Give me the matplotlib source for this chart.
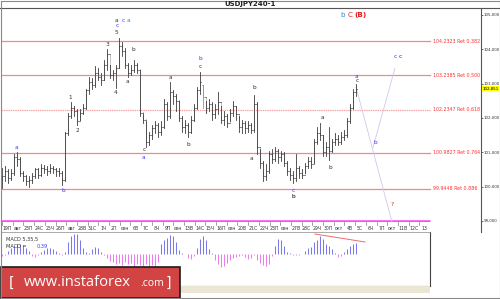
import matplotlib
matplotlib.use("Agg")
import matplotlib.pyplot as plt
from matplotlib.patches import Rectangle

# ── data (USDJPY H4) ───────────────────────────────────────────────
opens = [100.20, 100.30, 100.45, 100.25, 100.40, 100.85, 100.80, 100.40, 100.30, 100.15,
         100.20, 100.30, 100.50, 100.35, 100.55, 100.50, 100.45, 100.55, 100.50, 100.45,
         100.40, 100.20, 101.55, 102.05, 102.30, 102.20, 101.90, 102.15, 102.30, 102.80,
         103.05, 102.95, 103.30, 103.20, 103.10, 103.55, 103.85, 103.25, 103.30, 103.45,
         104.10, 103.95, 103.55, 103.30, 103.40, 103.55, 103.40, 102.15, 101.95, 101.30,
         101.50, 101.70, 101.80, 101.60, 101.75, 102.40, 102.05, 102.75, 102.65, 102.50,
         102.00, 101.75, 101.80, 101.60, 101.95, 102.30, 102.80, 102.95, 102.60, 102.30,
         102.40, 102.10, 102.25, 102.45, 101.95, 102.05, 101.85, 102.15, 102.35, 102.10,
         101.75, 101.85, 101.70, 101.80, 101.65, 102.40, 101.15, 100.70, 100.30, 100.45,
         100.95, 100.80, 101.05, 100.85, 100.95, 100.70, 100.45, 100.35, 100.25, 100.55,
         100.40, 100.35, 100.60, 100.75, 100.65, 101.30, 101.55, 101.50, 101.00, 101.15,
         101.05, 101.30, 101.40, 101.30, 101.45, 101.50, 101.90, 102.30, 102.75]
highs = [100.55, 100.60, 100.50, 100.50, 100.95, 101.00, 100.85, 100.45, 100.35, 100.30,
         100.40, 100.55, 100.55, 100.65, 100.62, 100.60, 100.65, 100.60, 100.55, 100.55,
         100.45, 101.60, 102.15, 102.45, 102.35, 102.25, 102.25, 102.40, 102.85, 103.20,
         103.15, 103.50, 103.45, 103.30, 103.70, 104.00, 103.55, 103.40, 103.55, 104.33,
         104.20, 104.05, 103.60, 103.55, 103.70, 103.60, 103.40, 102.10, 101.90, 101.60,
         101.80, 101.90, 101.85, 101.90, 102.55, 102.45, 103.05, 102.80, 102.70, 102.50,
         102.05, 101.95, 101.85, 102.05, 102.40, 102.90, 103.35, 102.96, 102.50, 102.55,
         102.45, 102.40, 102.75, 102.35, 102.20, 102.10, 102.25, 102.50, 102.35, 102.05,
         101.95, 101.90, 101.90, 101.85, 102.67, 102.45, 101.10, 100.75, 100.65, 101.05,
         101.10, 101.15, 101.10, 101.05, 101.00, 100.75, 100.55, 100.45, 100.95, 100.60,
         100.50, 100.70, 100.85, 100.85, 101.40, 101.74, 101.85, 101.50, 101.30, 101.74,
         101.40, 101.55, 101.50, 101.60, 101.65, 102.00, 102.40, 102.85, 103.00]
lows = [99.95, 100.15, 100.10, 100.20, 100.35, 100.60, 100.30, 100.15, 100.05, 100.00,
        100.10, 100.25, 100.25, 100.30, 100.40, 100.35, 100.40, 100.40, 100.30, 100.30,
        100.05, 100.15, 101.50, 102.00, 102.05, 101.80, 101.95, 102.10, 102.25, 102.70,
        102.85, 102.90, 103.10, 102.95, 103.10, 103.40, 103.15, 103.10, 102.87, 103.45,
        103.80, 103.45, 103.20, 103.25, 103.35, 103.30, 102.05, 101.85, 101.15, 101.20,
        101.40, 101.55, 101.45, 101.50, 101.70, 101.95, 102.00, 102.40, 102.20, 101.90,
        101.60, 101.55, 101.44, 101.55, 101.90, 102.25, 102.70, 102.29, 102.15, 102.20,
        101.95, 102.00, 102.10, 101.85, 101.80, 101.75, 101.90, 102.05, 101.95, 101.60,
        101.55, 101.55, 101.60, 101.55, 101.60, 100.95, 100.55, 100.15, 100.20, 100.40,
        100.70, 100.75, 100.70, 100.75, 100.60, 100.35, 100.20, 100.10, 100.15, 100.25,
        100.25, 100.40, 100.55, 100.55, 100.70, 101.25, 101.35, 100.90, 100.90, 100.78,
        101.00, 101.20, 101.20, 101.25, 101.35, 101.45, 101.85, 102.25, 102.65]
closes = [100.30, 100.45, 100.25, 100.40, 100.85, 100.80, 100.40, 100.30, 100.15, 100.20,
          100.30, 100.50, 100.35, 100.55, 100.50, 100.45, 100.55, 100.50, 100.45, 100.40,
          100.20, 101.55, 102.05, 102.30, 102.20, 101.90, 102.15, 102.30, 102.80, 103.05,
          102.95, 103.30, 103.20, 103.10, 103.55, 103.85, 103.25, 103.30, 103.45, 104.10,
          103.95, 103.55, 103.30, 103.40, 103.55, 103.40, 102.15, 101.95, 101.30, 101.50,
          101.70, 101.80, 101.60, 101.75, 102.40, 102.05, 102.75, 102.65, 102.50, 102.00,
          101.75, 101.80, 101.60, 101.95, 102.30, 102.80, 103.05, 102.60, 102.30, 102.40,
          102.10, 102.25, 102.45, 101.95, 102.05, 101.85, 102.15, 102.35, 102.10, 101.75,
          101.85, 101.70, 101.80, 101.65, 102.40, 101.15, 100.70, 100.30, 100.45, 100.95,
          100.80, 101.05, 100.85, 100.95, 100.70, 100.45, 100.35, 100.25, 100.55, 100.40,
          100.35, 100.60, 100.75, 100.65, 101.30, 101.55, 101.50, 101.00, 101.15, 101.05,
          101.30, 101.40, 101.30, 101.45, 101.50, 101.90, 102.30, 102.75, 102.85]
highlight_bar = 67          # the pink bar

macd_hist = [-0.07, -0.04, 0.11, 0.21, 0.28, 0.35, 0.35, 0.32, 0.21, 0.11,
             -0.07, -0.11, -0.04, 0.07, 0.14, 0.21, 0.21, 0.18, 0.11, 0.04,
             -0.04, 0.07, 0.42, 0.63, 0.70, 0.70, 0.49, 0.21, 0.07, 0.04,
             0.18, 0.25, 0.21, 0.07, -0.04, -0.14, -0.25, -0.28, -0.35, -0.32,
             -0.39, -0.28, -0.35, -0.32, -0.42, -0.35, -0.39, -0.42, -0.35, -0.46,
             -0.39, -0.42, -0.28, 0.35, 0.49, 0.56, 0.67, 0.63, 0.42, 0.14,
             0.04, 0.00, -0.14, -0.18, -0.07, 0.21, 0.53, 0.63, 0.49, 0.18,
             0.04, -0.21, -0.35, -0.46, -0.42, -0.32, -0.21, -0.14, -0.11, -0.07,
             -0.04, -0.11, -0.18, -0.14, -0.04, -0.21, -0.32, -0.39, -0.42, -0.35,
             -0.07, 0.28, 0.53, 0.49, 0.28, 0.07, 0.04, -0.04, -0.04, -0.04,
             0.00, 0.11, 0.21, 0.25, 0.42, 0.49, 0.63, 0.53, 0.35, 0.28,
             0.18, 0.04, -0.11, -0.07, 0.07, 0.18, 0.28, 0.35, 0.39]
macd_trend_x = [104.3, 121.0]
macd_trend_y = [0.70, 0.42]

fib_levels = [104.2323, 103.2385, 102.2347, 100.9827, 99.9448]
fib_ratios = ['0.382', '0.500', '0.618', '0.764', '0.886']
floor_level = 99.0

# projected wave path (bar index, price)
proj_down_x = [118, 130]
proj_down_y = [102.90, 98.97]
proj_up_x = [123.7, 131]
proj_up_y = [101.15, 103.45]

price_ticks = [99, 100, 101, 102, 103, 104, 105]
last_price = 102.851

time_labels = ['19П', 'авг', '23П', '24С', '25Ч', '26П', 'авг', '28В', '31С', '1Ч',
               '2П', 'сен', '6В', '7С', '8Ч', '9П', 'сен', '13В', '14С', '15Ч',
               '16П', 'сен', '20В', '21С', '22Ч', '23П', 'сен', '27В', '28С', '29Ч',
               '30П', 'окт', '4В', '5С', '6Ч', '7П', 'окт', '11В', '12С', '13']

DARK, BLUE, CYAN, RED = '#333333', '#3a3aff', '#2a8ad0', '#e02020'
wave_labels = [
    (4.7, 101.13, 'a', BLUE), (20.3, 99.90, 'b', BLUE),
    (22.7, 102.58, '1', DARK), (25.3, 101.62, '2', DARK),
    (35.0, 104.13, '3', DARK), (37.7, 102.73, '4', DARK),
    (38.3, 104.50, '5', DARK), (38.3, 104.68, 'c', BLUE),
    (38.3, 104.85, 'a', DARK), (40.3, 104.85, 'c', BLUE), (42.0, 104.85, 'a', CYAN),
    (41.7, 103.05, 'a', DARK), (43.7, 103.98, 'b', DARK),
    (47.3, 101.07, 'c', DARK), (47.3, 100.86, 'a', BLUE),
    (56.0, 103.19, 'a', DARK), (62.0, 101.24, 'b', DARK),
    (66.0, 103.49, 'c', DARK), (66.0, 103.72, 'b', BLUE),
    (84.0, 102.90, 'b', DARK), (83.3, 100.83, 'a', DARK),
    (97.0, 99.90, 'c', BLUE), (97.0, 99.70, 'b', 'black'),
    (106.7, 102.00, 'a', DARK), (109.3, 100.57, 'b', DARK),
    (118.3, 103.21, 'a', BLUE), (118.3, 103.08, 'c', DARK),
    (124.3, 101.27, 'b', BLUE), (131.0, 103.78, 'c', BLUE), (132.7, 103.78, 'c', DARK),
    (130.0, 99.47, '?', RED),
]

W, H = 500, 299


def box(x0, y0, x1, y1):
    return [x0 / W, 1 - y1 / H, (x1 - x0) / W, (y1 - y0) / H]


fig = plt.figure(figsize=(W / 100, H / 100), dpi=100, facecolor='white')

# ── main price window ──────────────────────────────────────────────
ax = fig.add_axes(box(1, 8, 481, 222))
ax.set_xlim(-1 / 3, 159.67)
ax.set_ylim(98.97, 105.20)
for s in ['top', 'bottom', 'left']:
    ax.spines[s].set_visible(False)
ax.spines['right'].set_color('#555555')
ax.spines['right'].set_linewidth(0.8)
ax.set_xticks([])
ax.yaxis.tick_right()
ax.set_yticks(price_ticks)
ax.set_yticklabels([f'{p},000' for p in price_ticks], fontsize=2.9, color=DARK)
ax.tick_params(axis='y', length=1.5, width=0.5, pad=0.4, colors=DARK)

fib_end = 142.7
for lvl, r in zip(fib_levels, fib_ratios):
    if r == '0.618':
        ax.plot([-1, fib_end], [lvl, lvl], color='#f4a8a8', lw=0.9,
                ls=(0, (1.2, 0.6)), zorder=1)
    else:
        ax.plot([-1, fib_end], [lvl, lvl], color='#f08a8a', lw=0.9, zorder=1)
    ax.text(fib_end + 1, lvl, f'{lvl:.4f} Ret {r}', fontsize=3.4, color='#ff3030',
            va='center', ha='left')
ax.plot([-1, fib_end], [floor_level, floor_level], color='#ff44ff', lw=1.8,
        solid_capstyle='butt', zorder=2)

for i, (o, h, l, c) in enumerate(zip(opens, highs, lows, closes)):
    ax.add_patch(Rectangle((i - 0.1, min(o, c)), 0.55, abs(c - o) + 0.01,
                           facecolor='#c4c4c4', edgecolor='none', zorder=2))
    col = '#ff44ff' if i == highlight_bar else '#3c3c3c'
    ax.plot([i, i], [l, h], color=col, lw=0.6, zorder=3)
    ax.plot([i - 0.4, i], [o, o], color=col, lw=0.5, zorder=3)
    ax.plot([i, i + 0.4], [c, c], color=col, lw=0.5, zorder=3)

ax.plot(proj_down_x, proj_down_y, color='#cfc8ea', lw=0.6, zorder=2, clip_on=False)
ax.plot(proj_up_x, proj_up_y, color='#cfc8ea', lw=0.6, zorder=2)

for x, y, t, c in wave_labels:
    ax.text(x, y, t, fontsize=4.2, color=c, ha='center', va='center', zorder=4)
ax.text(113.7, 105.0, 'b', fontsize=5.2, color=CYAN, ha='center', va='center')
ax.text(116.2, 105.0, 'C', fontsize=5.2, color=RED, ha='center', va='center')
ax.text(119.5, 105.0, '(B)', fontsize=5.2, color=RED, ha='center', va='center',
        fontweight='bold')

ax.text(1.003, (last_price - 98.97) / (105.20 - 98.97), f'{last_price:.3f}'.replace('.', ','),
        transform=ax.transAxes, fontsize=2.9, color='black', va='center', ha='left',
        bbox=dict(boxstyle='square,pad=0.2', fc='#ffff00', ec='none'))

# ── time axis strip ────────────────────────────────────────────────
axt = fig.add_axes(box(1, 222, 430, 232))
axt.set_xlim(0, 429)
axt.set_ylim(0, 1)
axt.axis('off')
for k, lab in enumerate(time_labels):
    xp = 6 + 10.7 * k
    axt.plot([xp - 5, xp - 5], [0.75, 1.0], color='#555555', lw=0.4)
    axt.text(xp, 0.38, lab, fontsize=3.3, color=DARK, ha='center', va='center')

# ── MACD window ────────────────────────────────────────────────────
axm = fig.add_axes(box(1, 232, 430, 286))
axm.set_xlim(-1 / 3, 142.67)
axm.set_ylim(-1.12, 0.77)
axm.set_xticks([])
axm.set_yticks([])
axm.spines['left'].set_visible(False)
for s in ['right', 'bottom']:
    axm.spines[s].set_color('#444444')
    axm.spines[s].set_linewidth(0.8)
axm.spines['top'].set_color('#888888')
axm.spines['top'].set_linewidth(0.5)
for i, v in enumerate(macd_hist):
    col = '#7a7af0' if v >= 0 else '#f07af0'
    axm.plot([i, i], [0, v], color=col, lw=0.75, solid_capstyle='butt')
axm.plot(macd_trend_x, macd_trend_y, color='#f06a6a', lw=0.7)
axm.text(0.012, 0.86, 'MACD 5,35,5', transform=axm.transAxes, fontsize=3.6,
         color=DARK, va='center')
axm.text(0.012, 0.74, 'MACD =', transform=axm.transAxes, fontsize=3.6,
         color=DARK, va='center')
axm.text(0.082, 0.74, '0,39', transform=axm.transAxes, fontsize=3.6,
         color=BLUE, va='center')

# beige strip under the indicator window
axb = fig.add_axes(box(1, 286, 430, 293))
axb.set_facecolor('#ebe6d4')
axb.set_xticks([])
axb.set_yticks([])
for s in axb.spines.values():
    s.set_visible(False)

# ── frame, title, logo ─────────────────────────────────────────────
axf = fig.add_axes([0, 0, 1, 1], facecolor='none')
axf.set_xlim(0, W)
axf.set_ylim(H, 0)
axf.axis('off')
axf.plot([0, W], [8, 8], color='#555555', lw=0.8)
axf.plot([0.5, 0.5, W - 0.5, W - 0.5, 0.5], [0.5, H - 1.5, H - 1.5, 0.5, 0.5],
         color='#8a8a8a', lw=0.8)
axf.plot([481, 481], [222, 232], color='#555555', lw=0.8)
axf.text(250, 4.3, 'USDJPY240-1', fontsize=5, fontweight='bold', color='#222222',
         ha='center', va='center')

axf.add_patch(Rectangle((0.5, 267), 179.5, 30.5, facecolor='#d24444',
                        edgecolor='#1c1c1c', lw=1.2))
axf.text(12, 282.5, '[', fontsize=10, color='white', ha='center', va='center')
axf.text(24, 283, 'www.instaforex', fontsize=10.5, color='white', ha='left',
         va='center', family='Open Sans')
axf.text(140, 284, '.com', fontsize=7.5, color='white', ha='left', va='center',
         family='Open Sans')
axf.text(168, 282.5, ']', fontsize=10, color='white', ha='center', va='center')

fig.savefig('out.png', dpi=100, facecolor='white')
